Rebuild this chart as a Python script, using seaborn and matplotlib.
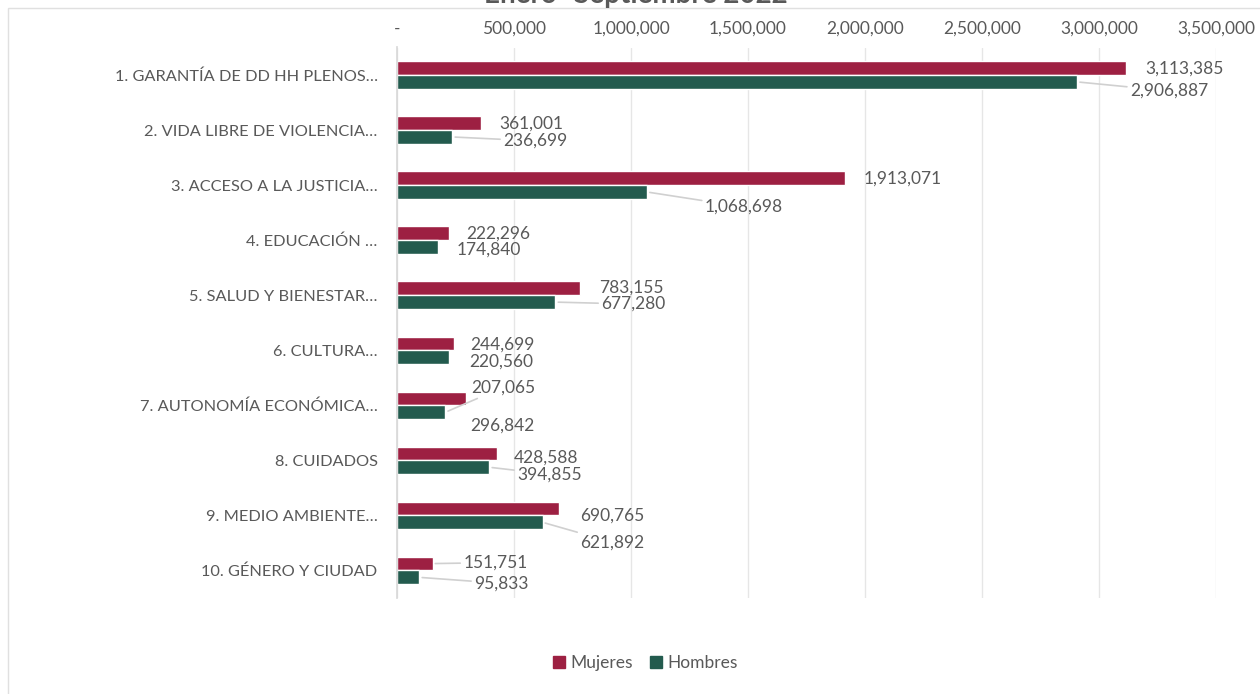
import matplotlib
matplotlib.use("Agg")
import matplotlib.pyplot as plt
import seaborn as sns
import pandas as pd
from matplotlib.patches import Rectangle
from matplotlib.ticker import FuncFormatter

categories = [
    "1. GARANTÍA DE DD HH PLENOS…",
    "2. VIDA LIBRE DE VIOLENCIA…",
    "3. ACCESO A LA JUSTICIA…",
    "4. EDUCACIÓN …",
    "5. SALUD Y BIENESTAR…",
    "6. CULTURA…",
    "7. AUTONOMÍA ECONÓMICA…",
    "8. CUIDADOS",
    "9. MEDIO AMBIENTE…",
    "10. GÉNERO Y CIUDAD",
]
mujeres = [3113385, 361001, 1913071, 222296, 783155, 244699, 296842, 428588, 690765, 151751]
hombres = [2906887, 236699, 1068698, 174840, 677280, 220560, 207065, 394855, 621892, 95833]
series_names = ["Mujeres", "Hombres"]
title = "Enero -Septiembre 2022"

# label offsets (pixels) from bar end: (dx, dy, leader line) ; dy positive = downward
off_m = [(20, 0, 0), (18, 0, 0), (19, 0, 0), (17, 0, 0), (19, -1, 0), (16, 1, 0),
         (4, 27, 0), (16, 4, 0), (21, 7, 0), (31, -1, 1)]
off_h = [(53, 9, 1), (51, 4, 1), (58, 15, 1), (19, 3, 0), (46, 2, 1), (21, 4, 0),
         (26, -25, 1), (28, 7, 1), (38, 20, 1), (55, 6, 1)]

colors = {"Mujeres": "#9D2042", "Hombres": "#235B4E"}
text_color = "#595959"

sns.set_theme(style="white")
plt.rcParams["font.family"] = ["Lato", "DejaVu Sans"]

df = pd.DataFrame({
    "cat": categories * 2,
    "val": mujeres + hombres,
    "serie": [series_names[0]] * len(categories) + [series_names[1]] * len(categories),
})

fig = plt.figure(figsize=(12.6, 6.94), dpi=100)
ax = fig.add_axes([397 / 1260, 1 - 598 / 694, (1216 - 397) / 1260, (598 - 47.5) / 694])

sns.barplot(data=df, y="cat", x="val", hue="serie", order=categories,
            hue_order=series_names, palette=colors, width=0.5, orient="h",
            ax=ax, legend=False, saturation=1)

ax.set_xlim(0, 3500000)
ax.set_ylim(9.5, -0.5)
ax.xaxis.tick_top()
ax.set_xticks(range(0, 3500001, 500000))
ax.xaxis.set_major_formatter(FuncFormatter(lambda v, p: "-" if v == 0 else f"{int(v):,}"))
ax.tick_params(axis="x", length=0, pad=8, labelsize=12.5, labelcolor=text_color)
ax.tick_params(axis="y", length=0, pad=14, labelsize=11.8, labelcolor=text_color)
ax.set_xlabel("")
ax.set_ylabel("")
ax.grid(axis="x", color="#E6E6E6", linewidth=1)
ax.set_axisbelow(True)
for s in ["top", "right", "bottom"]:
    ax.spines[s].set_visible(False)
ax.spines["left"].set_color("#D9D9D9")

for cont, vals, offs in zip(ax.containers, [mujeres, hombres], [off_m, off_h]):
    for patch, v, (dx, dy, leader) in zip(cont.patches, vals, offs):
        x = patch.get_x() + patch.get_width()
        y = patch.get_y() + patch.get_height() / 2
        ax.annotate(f"{v:,}", xy=(x, y), xytext=(dx, -dy), textcoords="offset pixels",
                    ha="left", va="center", fontsize=12.5, color=text_color,
                    arrowprops=dict(arrowstyle="-", color="#D0D0D0", lw=1.2,
                                    shrinkA=0, shrinkB=2) if leader else None)

handles = [Rectangle((0, 0), 1, 1, color=colors[n]) for n in series_names]
fig.legend(handles, series_names, loc="center", bbox_to_anchor=(645 / 1260, 1 - 663 / 694),
           ncol=2, frameon=False, handlelength=0.7, handleheight=0.7, handletextpad=0.3,
           columnspacing=1.0, fontsize=12.5, labelcolor=text_color)

fig.text(636 / 1260, 1 - 3 / 694, title, ha="center", va="baseline", fontsize=20,
         fontweight="bold", color=text_color)

fig.patches.append(Rectangle((8 / 1260, -0.01), 1.0, 1 - 8 / 694 + 0.01,
                             transform=fig.transFigure, fill=False,
                             edgecolor="#E0E0E0", linewidth=1, zorder=0))

fig.savefig("out.png", dpi=100)
